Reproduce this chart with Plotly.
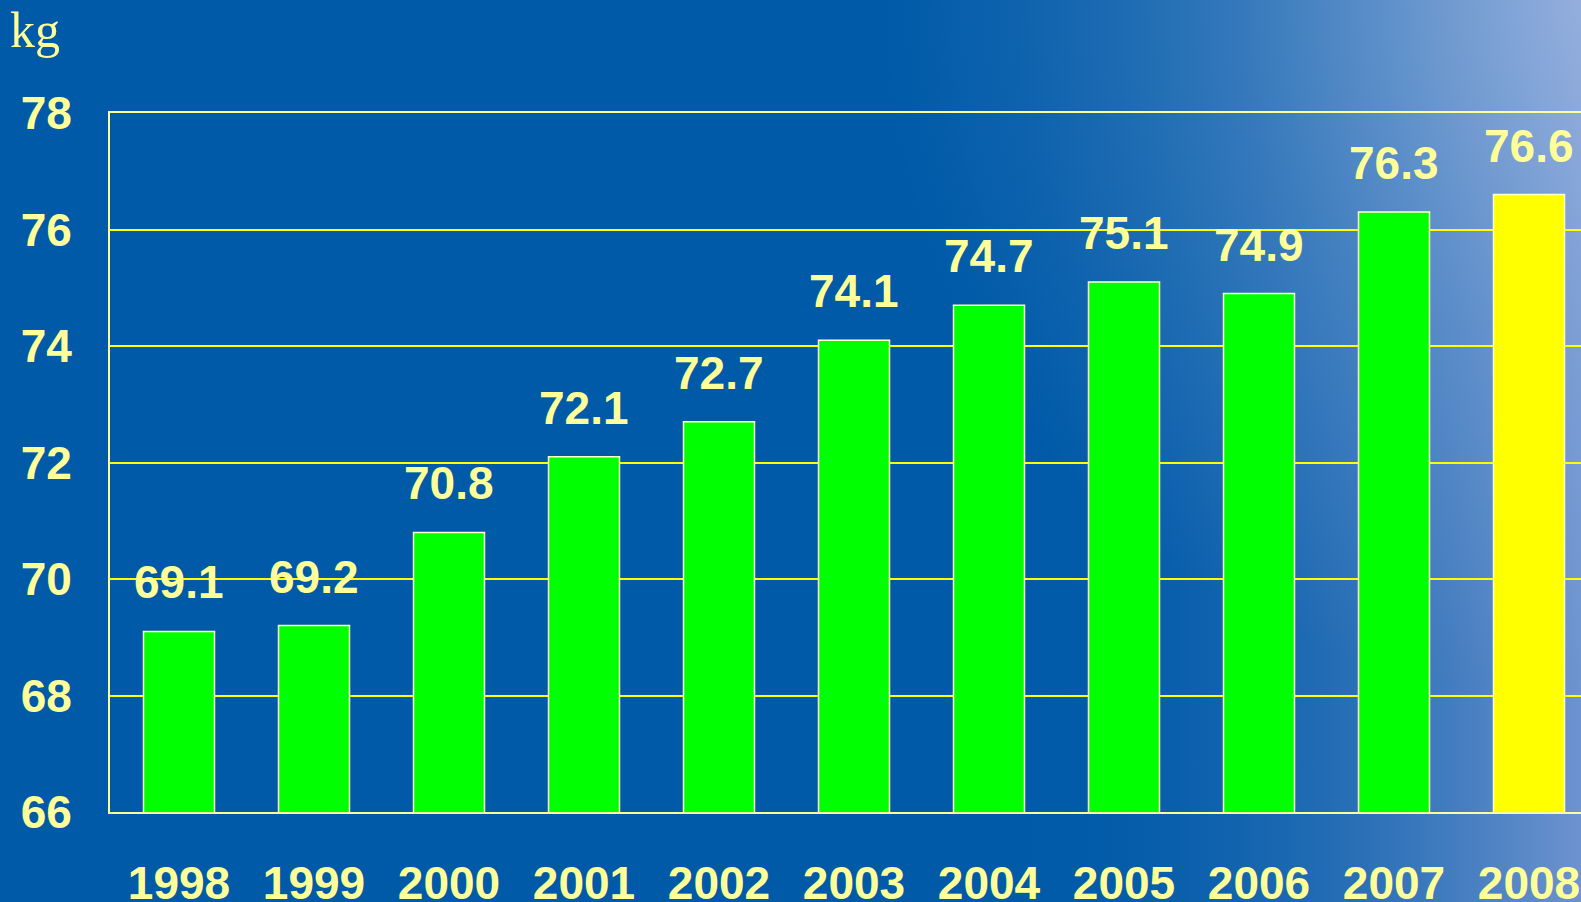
import base64
import plotly.graph_objects as go

# ---- data ----
years = ["1998", "1999", "2000", "2001", "2002", "2003", "2004", "2005", "2006", "2007", "2008"]
values = [69.1, 69.2, 70.8, 72.1, 72.7, 74.1, 74.7, 75.1, 74.9, 76.3, 76.6]
y_ticks = [66, 68, 70, 72, 74, 76, 78]
unit_label = "kg"

# ---- style ----
W, H = 1581, 902
ML, MR, MT, MB = 110, 0, 113, 90
PW, PH = W - ML - MR, H - MT - MB
STEP = 135.0
FIRST_CENTER = 179.0
TXT = "#FFFF99"
FONT = "Liberation Sans, Arial, sans-serif"

bar_colors = ["#00FF00"] * (len(years) - 1) + ["#FFFF00"]

svg = f'''<svg xmlns="http://www.w3.org/2000/svg" width="{W}" height="{H}" viewBox="0 0 {W} {H}">
<defs>
<linearGradient id="lin" gradientUnits="userSpaceOnUse" x1="1000" y1="0" x2="{W}" y2="0">
<stop offset="0" stop-color="#005AA8" stop-opacity="0"/>
<stop offset="1" stop-color="#6E93CF" stop-opacity="1"/>
</linearGradient>
<radialGradient id="glow" gradientUnits="userSpaceOnUse" cx="{W}" cy="0" r="700">
<stop offset="0" stop-color="#B8CAEB" stop-opacity="0.5"/>
<stop offset="0.5" stop-color="#B8CAEB" stop-opacity="0.2"/>
<stop offset="1" stop-color="#B8CAEB" stop-opacity="0"/>
</radialGradient>
</defs>
<rect width="{W}" height="{H}" fill="#005AA8"/>
<rect width="{W}" height="{H}" fill="url(#lin)"/>
<rect width="{W}" height="{H}" fill="url(#glow)"/>
</svg>'''
bg_src = "data:image/svg+xml;base64," + base64.b64encode(svg.encode()).decode()

fig = go.Figure()
fig.add_trace(go.Bar(
    x=years, y=values,
    marker=dict(color=bar_colors, line=dict(color="#FFFFCC", width=1.5)),
    hoverinfo="skip",
))

for i, v in enumerate(values):
    fig.add_annotation(
        x=i, y=v, xref="x", yref="y", text=f"{v:.1f}", showarrow=False,
        xanchor="center", yanchor="middle", yshift=49,
        font=dict(family=FONT, size=46, color=TXT, weight="bold"),
    )

fig.add_annotation(
    xref="paper", yref="paper",
    x=-(ML - 8) / PW, y=1 + MT / PH,
    text=unit_label, showarrow=False, xanchor="left", yanchor="top",
    font=dict(family="Liberation Serif, Times New Roman, serif", size=50, color=TXT),
)

x0 = -(FIRST_CENTER - ML) / STEP
x1 = (W - MR - FIRST_CENTER) / STEP

fig.update_layout(
    width=W, height=H, autosize=False,
    margin=dict(l=ML, r=MR, t=MT, b=MB, pad=0),
    paper_bgcolor="#005AA8",
    plot_bgcolor="rgba(0,0,0,0)",
    showlegend=False,
    bargap=0.474,
    images=[dict(
        source=bg_src, xref="paper", yref="paper",
        x=-ML / PW, y=1 + MT / PH, sizex=W / PW, sizey=H / PH,
        xanchor="left", yanchor="top", sizing="stretch", layer="below",
    )],
    xaxis=dict(
        type="category", range=[x0, x1], automargin=False,
        showgrid=False, showline=True, linecolor="#FFFF99", linewidth=2,
        mirror=True,
        ticks="", ticklabelstandoff=30,
        tickfont=dict(family=FONT, size=46, color=TXT, weight="bold"),
        fixedrange=True,
    ),
    yaxis=dict(
        range=[66, 78], tickvals=y_ticks, ticktext=[str(t) for t in y_ticks],
        automargin=False,
        showgrid=True, gridcolor="#FFFF00", gridwidth=1.5,
        showline=True, linecolor="#FFFF99", linewidth=2,
        zeroline=False, ticks="", ticklabelstandoff=27,
        tickfont=dict(family=FONT, size=46, color=TXT, weight="bold"),
        fixedrange=True,
    ),
)

fig.write_html("out.html")
